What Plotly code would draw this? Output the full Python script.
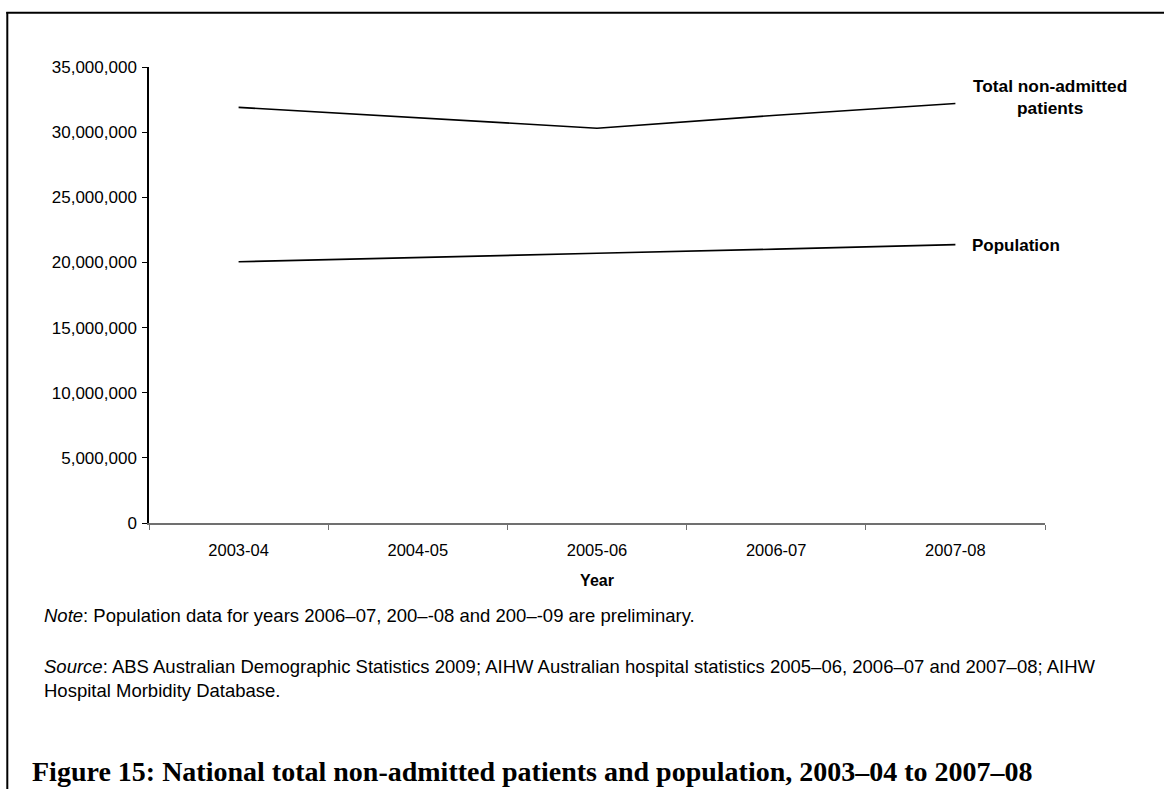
import plotly.graph_objects as go

# Financial years shown on the category axis
years = ["2003-04", "2004-05", "2005-06", "2006-07", "2007-08"]

# Series values (persons)
total_non_admitted = [31_900_000, 31_100_000, 30_300_000, 31_300_000, 32_200_000]
population = [20_050_000, 20_400_000, 20_700_000, 21_020_000, 21_370_000]

# Y axis ticks
y_ticks = [0, 5_000_000, 10_000_000, 15_000_000, 20_000_000, 25_000_000, 30_000_000, 35_000_000]

W, H = 1164, 789
PL, PR, PT, PB = 149, 1045, 67, 523  # plot area in pixels


def px(x):
    return (x - PL) / (PR - PL)


def py(y):
    return (PB - y) / (PB - PT)


SANS = "Liberation Sans, Arial, sans-serif"
SERIF = "Liberation Serif, Times New Roman, serif"

fig = go.Figure()
fig.add_trace(go.Scatter(x=years, y=total_non_admitted, mode="lines",
                         line=dict(color="black", width=1.6), showlegend=False,
                         name="Total non-admitted patients"))
fig.add_trace(go.Scatter(x=years, y=population, mode="lines",
                         line=dict(color="black", width=1.6), showlegend=False,
                         name="Population"))

fig.update_layout(
    width=W, height=H,
    margin=dict(l=PL, r=W - PR, t=PT, b=H - PB, pad=0),
    paper_bgcolor="white", plot_bgcolor="white",
    font=dict(family=SANS, size=16.5, color="black"),
    xaxis=dict(
        type="category", range=[-0.5, 4.5], showgrid=False,
        showline=True, linecolor="#707070", linewidth=1.5,
        ticks="outside", ticklen=5, tickcolor="#707070", tickwidth=1,
        tickson="boundaries", ticklabelstandoff=11,
        tickfont=dict(family=SANS, size=16.5),
        title=dict(text="<b>Year</b>", font=dict(family=SANS, size=16), standoff=17),
    ),
    yaxis=dict(
        range=[0, 35_000_000], tickvals=y_ticks, tickformat=",d",
        showgrid=False, zeroline=False,
        showline=True, linecolor="black", linewidth=1.5,
        ticks="outside", ticklen=5, tickcolor="black", tickwidth=1,
        ticklabelstandoff=2,
        tickfont=dict(family=SANS, size=17),
    ),
)

# Series labels placed beside the last point
fig.add_annotation(x=px(1050), y=py(97), xref="paper", yref="paper",
                   text="<b>Total non-admitted<br>patients</b>", showarrow=False,
                   xanchor="center", yanchor="middle", align="center",
                   font=dict(family=SANS, size=17.3))
fig.add_annotation(x=px(970), y=py(245), xref="paper", yref="paper",
                   text="<b>Population</b>", showarrow=False,
                   xanchor="left", yanchor="middle",
                   font=dict(family=SANS, size=17))

# Notes and figure caption
fig.add_annotation(x=px(42), y=py(615), xref="paper", yref="paper",
                   text="<i>Note</i>: Population data for years 2006–07, 200–-08 and 200–-09 are preliminary.",
                   showarrow=False, xanchor="left", yanchor="middle",
                   font=dict(family=SANS, size=18.5))
fig.add_annotation(x=px(42), y=py(678.5), xref="paper", yref="paper",
                   text="<i>Source</i>: ABS Australian Demographic Statistics 2009; AIHW Australian hospital statistics 2005–06, 2006–07 and 2007–08; AIHW<br>Hospital Morbidity Database.",
                   showarrow=False, xanchor="left", yanchor="middle", align="left",
                   font=dict(family=SANS, size=18.5))
fig.add_annotation(x=px(30), y=py(771), xref="paper", yref="paper",
                   text="<b>Figure 15: National total non-admitted patients and population, 2003–04 to 2007–08</b>",
                   showarrow=False, xanchor="left", yanchor="middle",
                   font=dict(family=SERIF, size=28))

# Frame: left and top rules
fig.add_shape(type="line", xref="paper", yref="paper",
              x0=px(7.3), x1=px(7.3), y0=py(12), y1=py(800),
              line=dict(color="black", width=2))
fig.add_shape(type="line", xref="paper", yref="paper",
              x0=px(6.3), x1=px(1170), y0=py(12.7), y1=py(12.7),
              line=dict(color="black", width=2))

fig.write_html("out.html")
